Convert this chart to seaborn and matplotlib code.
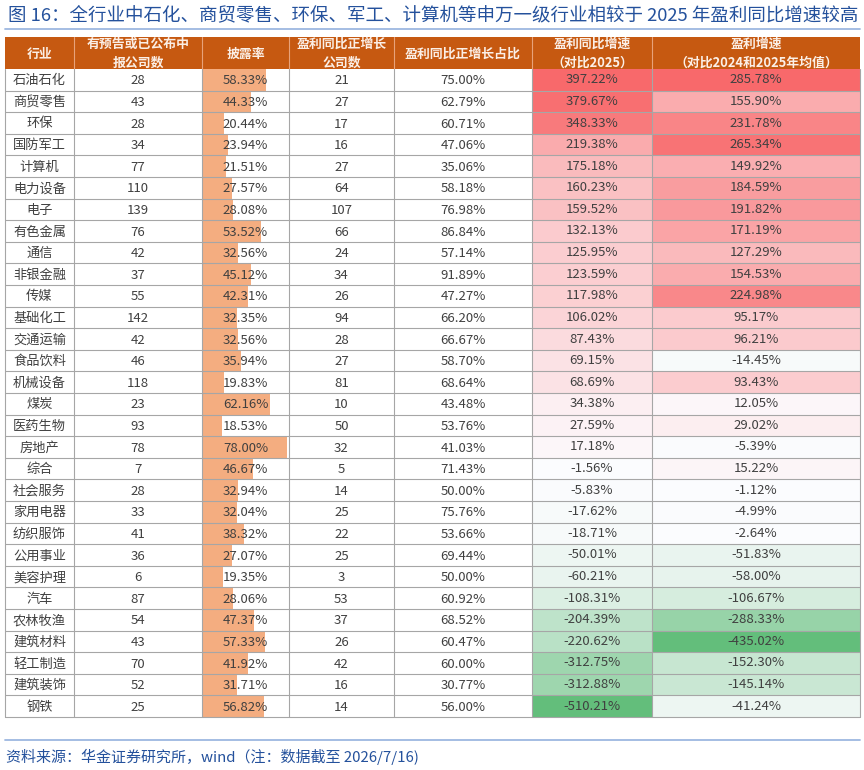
import numpy as np
import matplotlib
matplotlib.use("Agg")
import matplotlib.pyplot as plt
import seaborn as sns
from matplotlib.colors import LinearSegmentedColormap, TwoSlopeNorm
from matplotlib.patches import Rectangle

sns.set_theme(style="white")
plt.rcParams["font.family"] = ["Noto Sans CJK SC", "DejaVu Sans"]

# ---------------- data ----------------
industries = ["石油石化", "商贸零售", "环保", "国防军工", "计算机", "电力设备", "电子", "有色金属",
              "通信", "非银金融", "传媒", "基础化工", "交通运输", "食品饮料", "机械设备", "煤炭",
              "医药生物", "房地产", "综合", "社会服务", "家用电器", "纺织服饰", "公用事业", "美容护理",
              "汽车", "农林牧渔", "建筑材料", "轻工制造", "建筑装饰", "钢铁"]
reported = [28, 43, 28, 34, 77, 110, 139, 76, 42, 37, 55, 142, 42, 46, 118, 23, 93, 78, 7, 28,
            33, 41, 36, 6, 87, 54, 43, 70, 52, 25]
disclosure = [58.33, 44.33, 20.44, 23.94, 21.51, 27.57, 28.08, 53.52, 32.56, 45.12, 42.31, 32.35,
              32.56, 35.94, 19.83, 62.16, 18.53, 78.00, 46.67, 32.94, 32.04, 38.32, 27.07, 19.35,
              28.06, 47.37, 57.33, 41.92, 31.71, 56.82]
positive = [21, 27, 17, 16, 27, 64, 107, 66, 24, 34, 26, 94, 28, 27, 81, 10, 50, 32, 5, 14,
            25, 22, 25, 3, 53, 37, 26, 42, 16, 14]
positive_pct = [75.00, 62.79, 60.71, 47.06, 35.06, 58.18, 76.98, 86.84, 57.14, 91.89, 47.27, 66.20,
                66.67, 58.70, 68.64, 43.48, 53.76, 41.03, 71.43, 50.00, 75.76, 53.66, 69.44, 50.00,
                60.92, 68.52, 60.47, 60.00, 30.77, 56.00]
growth_2025 = [397.22, 379.67, 348.33, 219.38, 175.18, 160.23, 159.52, 132.13, 125.95, 123.59,
               117.98, 106.02, 87.43, 69.15, 68.69, 34.38, 27.59, 17.18, -1.56, -5.83, -17.62,
               -18.71, -50.01, -60.21, -108.31, -204.39, -220.62, -312.75, -312.88, -510.21]
growth_avg = [285.78, 155.90, 231.78, 265.34, 149.92, 184.59, 191.82, 171.19, 127.29, 154.53,
              224.98, 95.17, 96.21, -14.45, 93.43, 12.05, 29.02, -5.39, 15.22, -1.12, -4.99,
              -2.64, -51.83, -58.00, -106.67, -288.33, -435.02, -152.30, -145.14, -41.24]
headers = ["行业", "有预告或已公布中\n报公司数", "披露率", "盈利同比正增长\n公司数",
           "盈利同比正增长占比", "盈利同比增速\n（对比2025）", "盈利增速\n（对比2024和2025年均值）"]
title = "图 16：全行业中石化、商贸零售、环保、军工、计算机等申万一级行业相较于 2025 年盈利同比增速较高"
source = "资料来源：华金证券研究所，wind（注：数据截至 2026/7/16)"

# ---------------- style ----------------
HEAD = "#C65911"
BAR = "#F4AD80"
TXT = "#404040"
GRID = "#A6A6A6"
BLUE = "#24519C"
LINE_BLUE = "#9DB8E0"
FS = 9.5

W, H = 864, 770
fig = plt.figure(figsize=(W / 100, H / 100), dpi=100)
fig.patch.set_facecolor("white")

col_x = [5, 74, 202, 289, 394, 532, 652, 860]
head_top, table_top, row_h = 37, 69, 21.6
n = len(industries)
table_bot = table_top + n * row_h


def fig_rect(x0, x1, y0, y1):
    return [x0 / W, 1 - y1 / H, (x1 - x0) / W, (y1 - y0) / H]


# bar column (disclosure rate)
axb = fig.add_axes(fig_rect(col_x[2], col_x[3], table_top, table_bot))
sns.barplot(x=disclosure, y=industries, orient="h", color=BAR, saturation=1,
            width=1.0, linewidth=0, ax=axb)
axb.set_xlim(0, 79.5)
axb.set_ylim(n - 0.5, -0.5)
axb.axis("off")

# heatmap columns
cmap = LinearSegmentedColormap.from_list("excel3", ["#63BE7B", "#FCFCFF", "#F8696B"])
for ci, vals in [(5, growth_2025), (6, growth_avg)]:
    axh = fig.add_axes(fig_rect(col_x[ci], col_x[ci + 1], table_top, table_bot))
    arr = np.array(vals).reshape(-1, 1)
    norm = TwoSlopeNorm(vmin=min(vals), vcenter=0, vmax=max(vals))
    labels = np.array([f"{v:.2f}%" for v in vals]).reshape(-1, 1)
    sns.heatmap(arr, cmap=cmap, norm=norm, cbar=False, annot=labels, fmt="",
                annot_kws=dict(fontsize=FS, color=TXT), ax=axh,
                xticklabels=False, yticklabels=False)
    axh.axis("off")

# overlay
ax = fig.add_axes([0, 0, 1, 1], zorder=10)
ax.set_xlim(0, W)
ax.set_ylim(H, 0)
ax.axis("off")

# title
ax.text(8, 15, title, fontsize=13.3, color=BLUE, ha="left", va="center")
ax.plot([5, 860], [29, 29], color=LINE_BLUE, lw=1.3)

# header
ax.add_patch(Rectangle((col_x[0], head_top), col_x[-1] - col_x[0], table_top - head_top,
                       facecolor=HEAD, edgecolor="none"))
for i, h in enumerate(headers):
    cx = (col_x[i] + col_x[i + 1]) / 2
    ax.text(cx, (head_top + table_top) / 2 + 0.5, h, ha="center", va="center",
            fontsize=9.3, color="#FBEFE6", weight="bold", linespacing=1.45)
for x in col_x[1:-1]:
    ax.plot([x, x], [head_top, table_top], color="#E8A27A", lw=0.8)

# body text
columns = [industries, [str(v) for v in reported], [f"{v:.2f}%" for v in disclosure],
           [str(v) for v in positive], [f"{v:.2f}%" for v in positive_pct]]
for ci, col in enumerate(columns):
    cx = (col_x[ci] + col_x[ci + 1]) / 2
    for r, s in enumerate(col):
        cy = table_top + (r + 0.5) * row_h + 1
        ax.text(cx, cy, s, ha="center", va="center", fontsize=FS, color=TXT)

# grid
for r in range(1, n + 1):
    y = table_top + r * row_h
    ax.plot([col_x[0], col_x[-1]], [y, y], color=GRID, lw=0.8)
for x in col_x:
    ax.plot([x, x], [table_top, table_bot], color=GRID, lw=0.8)

# footer
ax.plot([5, 860], [740, 740], color=LINE_BLUE, lw=1.3)
ax.text(6, 757, source, fontsize=10.8, color=BLUE, ha="left", va="center", style="italic")

fig.savefig("out.png", dpi=100)
